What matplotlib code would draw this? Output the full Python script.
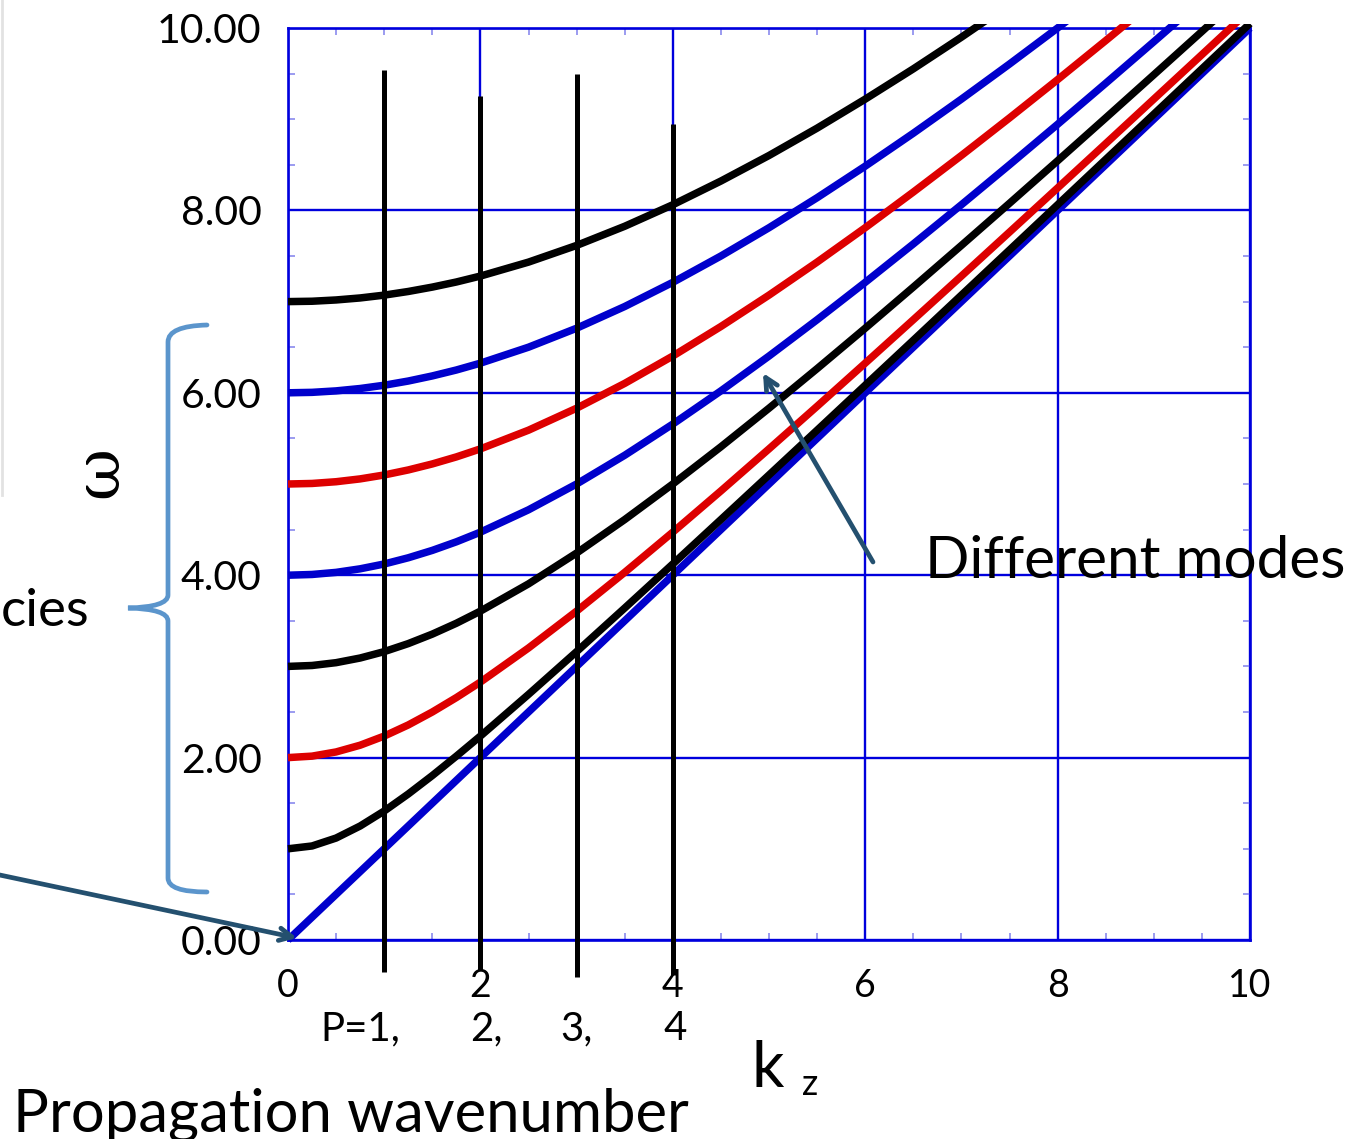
import matplotlib
matplotlib.use("Agg")
import matplotlib.pyplot as plt
from matplotlib.path import Path
from matplotlib.patches import PathPatch, Rectangle
from matplotlib.ticker import MultipleLocator, FormatStrFormatter

plt.rcParams["font.family"] = ["Lato", "DejaVu Sans"]

# --- data ----------------------------------------------------------------
kz = [0, 0.25, 0.5, 0.75, 1, 1.25, 1.5, 1.75, 2, 2.5, 3, 3.5, 4, 4.5, 5,
      5.5, 6, 6.5, 7, 7.5, 8, 8.5, 9, 9.5, 10]

mode_0 = [0.00, 0.25, 0.50, 0.75, 1.00, 1.25, 1.50, 1.75, 2.00, 2.50, 3.00, 3.50, 4.00,
          4.50, 5.00, 5.50, 6.00, 6.50, 7.00, 7.50, 8.00, 8.50, 9.00, 9.50, 10.00]
mode_1 = [1.000, 1.031, 1.118, 1.250, 1.414, 1.601, 1.803, 2.016, 2.236, 2.693, 3.162,
          3.640, 4.123, 4.610, 5.099, 5.590, 6.083, 6.576, 7.071, 7.566, 8.062, 8.559,
          9.055, 9.552, 10.050]
mode_2 = [2.000, 2.016, 2.062, 2.136, 2.236, 2.358, 2.500, 2.658, 2.828, 3.202, 3.606,
          4.031, 4.472, 4.924, 5.385, 5.852, 6.325, 6.801, 7.280, 7.762, 8.246, 8.732,
          9.220, 9.708, 10.198]
mode_3 = [3.000, 3.010, 3.041, 3.092, 3.162, 3.250, 3.354, 3.473, 3.606, 3.905, 4.243,
          4.610, 5.000, 5.408, 5.831, 6.265, 6.708, 7.159, 7.616, 8.078, 8.544, 9.014,
          9.487, 9.962, 10.440]
mode_4 = [4.000, 4.008, 4.031, 4.070, 4.123, 4.191, 4.272, 4.366, 4.472, 4.717, 5.000,
          5.315, 5.657, 6.021, 6.403, 6.801, 7.211, 7.632, 8.062, 8.500, 8.944, 9.394,
          9.849, 10.308, 10.770]
mode_5 = [5.000, 5.006, 5.025, 5.056, 5.099, 5.154, 5.220, 5.297, 5.385, 5.590, 5.831,
          6.103, 6.403, 6.727, 7.071, 7.433, 7.810, 8.201, 8.602, 9.014, 9.434, 9.862,
          10.296, 10.735, 11.180]
mode_6 = [6.000, 6.005, 6.021, 6.047, 6.083, 6.129, 6.185, 6.250, 6.325, 6.500, 6.708,
          6.946, 7.211, 7.500, 7.810, 8.139, 8.485, 8.846, 9.220, 9.605, 10.000, 10.404,
          10.817, 11.236, 11.662]
mode_7 = [7.000, 7.004, 7.018, 7.040, 7.071, 7.111, 7.159, 7.215, 7.280, 7.433, 7.616,
          7.826, 8.062, 8.322, 8.602, 8.902, 9.220, 9.552, 9.899, 10.259, 10.630, 11.011,
          11.402, 11.800, 12.207]

modes = [mode_0, mode_1, mode_2, mode_3, mode_4, mode_5, mode_6, mode_7]
mode_colors = ["#0000cc", "black", "#dd0000", "black", "#0000cc", "#dd0000", "#0000cc", "black"]

# vertical markers at P = 1..4 (bottom, top) in omega units
p_kz = [1, 2, 3, 4]
p_bottom = [-0.35, -0.33, -0.41, -0.38]
p_top = [9.54, 9.25, 9.50, 8.95]
p_labels = ["P=1,", "2,", "3,", "4"]

GRID = "#0000dd"
MINOR = "#8a8aee"

fig = plt.figure(figsize=(13.68, 11.39), dpi=100)
W, H = 1368, 1139
ax = fig.add_axes([288 / W, 1 - 940 / H, (1250 - 288) / W, (940 - 28) / H])
ax.set_xlim(0, 10)
ax.set_ylim(0, 10)

# clip region a little larger than the axes so the line caps stick out
clip = Rectangle((-0.008, -0.01), 1.016, 1.014, transform=ax.transAxes, visible=False)
ax.add_patch(clip)

for vals, col in zip(modes, mode_colors):
    ln, = ax.plot(kz, vals, color=col, lw=5.4, solid_capstyle="butt",
                  solid_joinstyle="round", zorder=3)
    ln.set_clip_path(clip)

for x, b, t in zip(p_kz, p_bottom, p_top):
    ax.plot([x, x], [b, t], color="black", lw=3.6, zorder=4, clip_on=False,
            solid_capstyle="butt")

ax.xaxis.set_major_locator(MultipleLocator(2))
ax.yaxis.set_major_locator(MultipleLocator(2))
ax.xaxis.set_minor_locator(MultipleLocator(0.5))
ax.yaxis.set_minor_locator(MultipleLocator(0.5))
ax.yaxis.set_major_formatter(FormatStrFormatter("%.2f"))
ax.grid(True, which="major", color=GRID, lw=1.7, zorder=1)
ax.set_axisbelow(True)
for s in ax.spines.values():
    s.set_color(GRID)
    s.set_linewidth(1.9)
ax.tick_params(which="minor", direction="in", length=5, width=1.2, color=MINOR,
               top=True, right=True)
ax.tick_params(which="major", direction="in", length=0, top=True, right=True)
ax.tick_params(axis="y", which="major", labelsize=29.5, pad=19)
ax.tick_params(axis="x", which="major", labelsize=27, pad=20)

# overlay in pixel coordinates for annotations
ov = fig.add_axes([0, 0, 1, 1], zorder=10)
ov.set_xlim(0, W)
ov.set_ylim(H, 0)
ov.axis("off")

ov.plot([1.5, 1.5], [0, 495], color="#e2e2e2", lw=2)

for lab, x in zip(p_labels, [320, 470, 560, 663]):
    ov.text(x, 1040, lab, fontsize=29, ha="left", va="baseline")

ov.text(752, 1087, "k", fontsize=46, ha="left", va="baseline")
ov.text(802, 1095, "z", fontsize=26, ha="left", va="baseline")
ov.text(13, 1131, "Propagation wavenumber", fontsize=43, ha="left", va="baseline")
ov.text(100, 472, "ω", fontsize=46, family="DejaVu Serif", rotation=90,
        ha="center", va="center")
ov.text(925, 578, "Different modes", fontsize=42, ha="left", va="baseline")
ov.text(1, 626, "cies", fontsize=38, ha="left", va="baseline")

# curly bracket
BR = "#5b95cc"
verts = [(207, 325), (168, 326), (168, 342), (168, 595), (168, 607), (128, 608),
         (168, 609), (168, 621), (168, 878), (168, 892), (207, 892)]
codes = [Path.MOVETO, Path.CURVE3, Path.CURVE3, Path.LINETO, Path.CURVE3, Path.CURVE3,
         Path.CURVE3, Path.CURVE3, Path.LINETO, Path.CURVE3, Path.CURVE3]
ov.add_patch(PathPatch(Path(verts, codes), fill=False, ec=BR, lw=3.4, capstyle="round"))

ARR = "#24506f"
ov.annotate("", xy=(297, 938), xytext=(-5, 874),
            arrowprops=dict(arrowstyle="->,head_length=0.9,head_width=0.45",
                            color=ARR, lw=3.4, shrinkA=0, shrinkB=0))
ov.annotate("", xy=(763, 373), xytext=(873, 562),
            arrowprops=dict(arrowstyle="->,head_length=0.9,head_width=0.45",
                            color=ARR, lw=3.4, shrinkA=0, shrinkB=0))

fig.savefig("out.png", dpi=100)
